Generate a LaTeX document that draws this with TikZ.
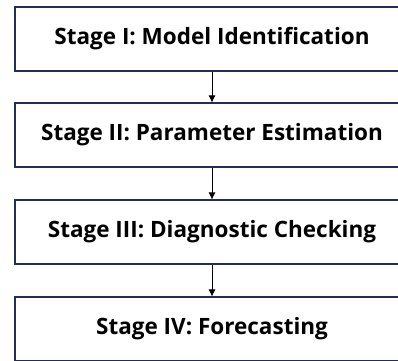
\documentclass[tikz,border=0pt]{standalone}
\usepackage{fontspec}
\setmainfont{Open Sans}
\usetikzlibrary{arrows.meta,positioning}
\definecolor{boxline}{RGB}{38,44,84}
\tikzset{>={Latex[length=7pt,width=7pt]}}
\tikzset{stagebox/.style={draw=boxline, line width=1.1pt, fill=white,
    minimum width=394pt, minimum height=64pt, inner sep=0pt,
    font=\bfseries\fontsize{22.5}{27}\selectfont}}
\tikzset{flow/.style={->, line width=0.7pt, black}}

\begin{document}
\begin{tikzpicture}[x=1pt,y=1pt]
  \useasboundingbox[clip] (0,0) rectangle (398,-360);
  \fill[white] (0,0) rectangle (398,-360);
  % the four stages
  \node[stagebox] (stage1) at (212,-39) {Stage I: Model Identification};
  \node[stagebox] (stage2) at (212,-135) {Stage II: Parameter Estimation};
  \node[stagebox] (stage3) at (212,-232) {Stage III: Diagnostic Checking};
  \node[stagebox] (stage4) at (212,-329) {Stage IV: Forecasting};
  % arrows between them
  \draw[flow] (stage1) -- (stage2);
  \draw[flow] (stage2) -- (stage3);
  \draw[flow] (stage3) -- (stage4);
\end{tikzpicture}
\end{document}
